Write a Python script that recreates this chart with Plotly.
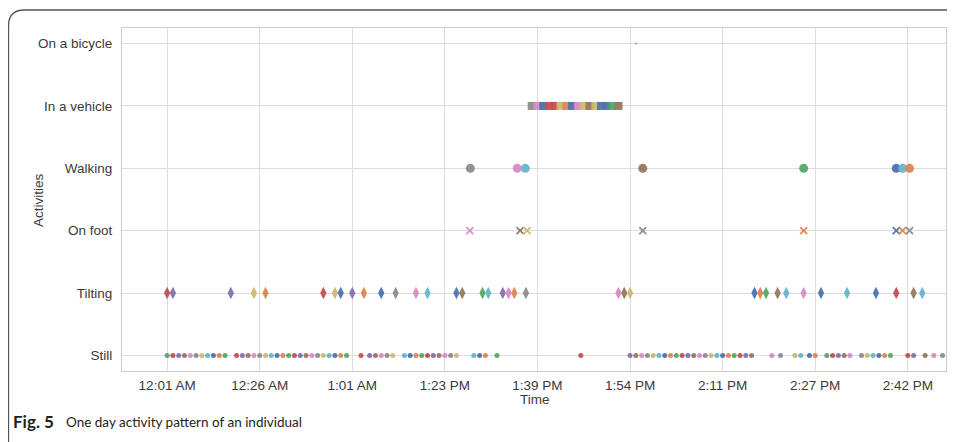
import plotly.graph_objects as go

# ---------------- data ----------------
activities = ["Still", "Tilting", "On foot", "Walking", "In a vehicle", "On a bicycle"]
tick_pos = [0, 16, 32, 48, 64, 80, 96, 112, 128]
tick_labels = ["12:01 AM", "12:26 AM", "1:01 AM", "1:23 PM", "1:39 PM",
               "1:54 PM", "2:11 PM", "2:27 PM", "2:42 PM"]

still_x = ([0, 1, 2, 3, 4, 5, 6, 7, 8, 9, 10]
           + [12, 13, 14, 15, 16, 17, 18, 19, 20, 21, 22, 23, 24, 25, 26, 27, 28, 29, 30]
           + [31, 33.5, 35, 36, 37, 38, 39]
           + [41, 42, 43, 44, 45, 46, 47, 48, 49, 50]
           + [53, 54, 55, 57, 71.5]
           + [80, 81, 82, 83, 84, 85, 86, 87, 88, 89, 90, 91, 92, 93, 94, 95, 96, 97, 98, 99, 100, 101]
           + [104.5, 106, 108.5, 109.5, 111, 112, 114, 115, 116, 117, 118, 120, 121, 122, 123, 124, 125]
           + [128, 129, 131, 132.5, 134])
tilting_x = [0, 1, 11, 15, 17, 27, 29, 30, 32, 34, 37, 39.5, 43, 45, 50, 51, 54.5, 55.5,
             58, 59, 60, 62, 78, 79, 80, 101.5, 102.5, 103.5, 105.5, 107, 110, 113,
             117.5, 122.5, 126, 129, 130.5]
onfoot_x = [52.3, 61, 62.2, 82.2, 110, 126, 127.1, 128.3]
walking_x = [52.4, 60.5, 61.9, 82.2, 110, 126, 127.1, 128.3]
vehicle_x = [63, 64, 65, 66, 67, 68, 69, 70, 71, 72, 73, 74, 75, 76, 77, 78]
bicycle_x = [81]

# ---------------- style ----------------
palette = ["#4C72B0", "#DD8452", "#55A868", "#C44E52", "#8172B3",
           "#937860", "#DA8BC3", "#8C8C8C", "#CCB974", "#64B5CD"]
tilting_ci = [3, 4, 4, 8, 1, 3, 8, 0, 4, 1, 0, 7, 6, 9, 0, 5, 2, 9, 4, 6,
              1, 7, 6, 5, 8, 0, 1, 2, 5, 9, 6, 0, 9, 0, 3, 5, 9]
walking_ci = [7, 6, 9, 5, 2, 0, 9, 1]
onfoot_ci = [6, 5, 8, 7, 1, 0, 1, 7]
vehicle_ci = [7, 6, 0, 3, 3, 8, 1, 0, 6, 8, 5, 8, 0, 0, 2, 5]


def cyc(n, offset):
    return [palette[(i + offset) % len(palette)] for i in range(n)]


def idx(ci):
    return [palette[i] for i in ci]


fig = go.Figure()

series = [
    (still_x, 0, "circle", 5, cyc(len(still_x), 2)),
    (tilting_x, 1, "diamond-tall", 9, idx(tilting_ci)),
    (onfoot_x, 2, "x-thin-open", 7, idx(onfoot_ci)),
    (walking_x, 3, "circle", 9, idx(walking_ci)),
    (vehicle_x, 4, "square", 8, idx(vehicle_ci)),
    (bicycle_x, 5, "circle", 2, ["#8C8C8C"]),
]

for xs, yi, sym, size, cols in series:
    marker = dict(symbol=sym, size=size, color=cols, opacity=0.95)
    if sym == "x-thin-open":
        marker["line"] = dict(width=1.8, color=cols)
    else:
        marker["line"] = dict(width=0)
    fig.add_trace(go.Scatter(
        x=xs, y=[yi] * len(xs), mode="markers", marker=marker,
        name=activities[yi], showlegend=False,
    ))

# the page has an 8px body margin: work in page pixels, shift into figure pixels
OFF = 8
W, H = 955 - OFF, 442 - OFF
ml, mr, mt, mb = 122 - OFF, 9, 28 - OFF, 442 - 371
pw, ph = W - ml - mr, H - mt - mb


def px(x):
    return (x - OFF - ml) / pw


def py(y):
    return (H - mb - (y - OFF)) / ph


font_fam = "Liberation Sans, Arial, sans-serif"
txt_col = "#3a3a3a"

fig.update_layout(
    width=W, height=H,
    margin=dict(l=ml, r=mr, t=mt, b=mb),
    paper_bgcolor="white", plot_bgcolor="white",
    font=dict(family=font_fam, size=13.5, color=txt_col),
    xaxis=dict(
        range=[-7.8, 134.6], tickvals=tick_pos, ticktext=tick_labels,
        showgrid=True, gridcolor="#dddddd", gridwidth=1,
        showline=True, linecolor="#cccccc", linewidth=1, mirror=True,
        zeroline=False, ticks="outside", ticklen=2, tickcolor="rgba(0,0,0,0)",
        tickfont=dict(size=13.5, color=txt_col),
    ),
    yaxis=dict(
        range=[-0.25, 5.25], tickvals=list(range(len(activities))), ticktext=activities,
        showgrid=True, gridcolor="#dddddd", gridwidth=1,
        showline=True, linecolor="#cccccc", linewidth=1, mirror=True,
        zeroline=False, ticks="outside", ticklen=6, tickcolor="rgba(0,0,0,0)",
        tickfont=dict(size=13.5, color=txt_col),
    ),
)

fig.add_annotation(text="Activities", xref="paper", yref="paper",
                   x=px(38), y=py(200), textangle=-90, showarrow=False,
                   xanchor="center", yanchor="middle",
                   font=dict(size=13.5, color=txt_col, family=font_fam))
fig.add_annotation(text="Time", xref="paper", yref="paper",
                   x=px(535), y=py(399), showarrow=False,
                   xanchor="center", yanchor="middle",
                   font=dict(size=13.5, color=txt_col, family=font_fam))
cap_font = "Lato, Open Sans, sans-serif"
fig.add_annotation(text="<b>Fig. 5</b>", xref="paper", yref="paper",
                   x=px(11), y=py(421), showarrow=False,
                   xanchor="left", yanchor="middle",
                   font=dict(size=17, color="#231f20", family=cap_font))
fig.add_annotation(text="One day activity pattern of an individual",
                   xref="paper", yref="paper", x=px(64), y=py(421.5), showarrow=False,
                   xanchor="left", yanchor="middle",
                   font=dict(size=13.5, color="#231f20", family=cap_font))

# partial rounded frame (top-left corner of the figure box)
r = 16
path = (f"M {px(8.5)},{py(450)} L {px(8.5)},{py(10 + r)} "
        f"Q {px(8.5)},{py(10)} {px(8.5 + r)},{py(10)} L {px(970)},{py(10)}")
fig.add_shape(type="path", xref="paper", yref="paper", path=path,
              line=dict(color="#555555", width=1.3), layer="above")

fig.write_html("out.html")
